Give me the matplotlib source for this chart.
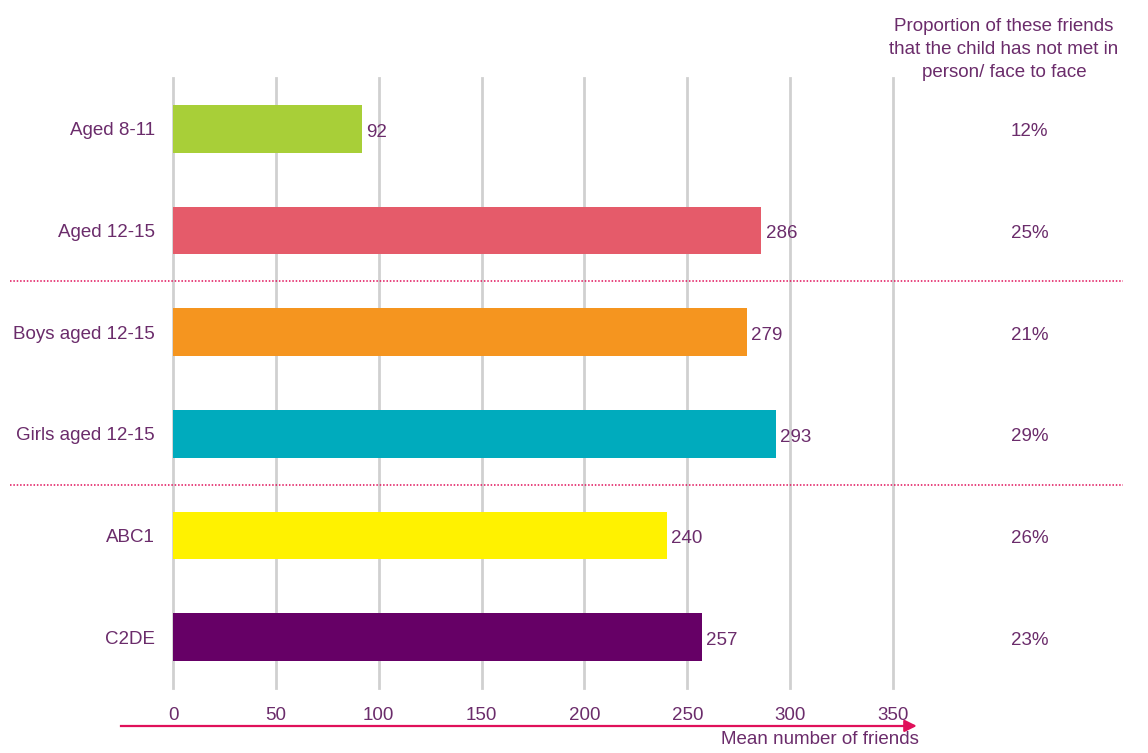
""" Mean number of friends by group, with proportion not met in person.
"""
import matplotlib.pyplot as plt
from matplotlib.lines import Line2D

plt.rcParams['font.family'] = ['Liberation Sans', 'DejaVu Sans']

categories = ["Aged 8-11", "Aged 12-15", "Boys aged 12-15", "Girls aged 12-15",
              "ABC1", "C2DE"]
mean_friends = [92, 286, 279, 293, 240, 257]
not_met = ["12%", "25%", "21%", "29%", "26%", "23%"]
bar_colors = ["#a8cf38", "#e55b6a", "#f5951f", "#00abbd", "#fff200", "#660066"]
xticks = [0, 50, 100, 150, 200, 250, 300, 350]
separators = [1.5, 3.5]

TEXT = "#6b2c6b"
ACCENT = "#e0105a"
FS = 13.5

fig = plt.figure(figsize=(11.48, 7.53), dpi=100)
ax = fig.add_axes([0.1507, 0.0863, 0.6272, 0.8101])

ypos = list(range(len(categories)))
ax.barh(ypos, mean_friends, height=0.47, color=bar_colors, zorder=3)

for y, v in zip(ypos, mean_friends):
    ax.annotate(str(v), (v, y), xytext=(3, -2.5), textcoords="offset points",
                va="center", ha="left", fontsize=FS, color=TEXT)

ax.set_xlim(0, 350)
ax.set_ylim(len(categories) - 0.5, -0.5)
ax.set_xticks(xticks)
ax.set_xticklabels([str(t) for t in xticks], color=TEXT, fontsize=FS)
ax.set_yticks(ypos)
ax.set_yticklabels(categories, color=TEXT, fontsize=FS)
ax.tick_params(axis="both", length=0)
ax.tick_params(axis="x", pad=14)
ax.tick_params(axis="y", pad=13)
ax.grid(axis="x", color="#d0d0d0", linewidth=2, zorder=0)
for gl in ax.get_xgridlines():
    gl.set_clip_on(False)
for s in ax.spines.values():
    s.set_visible(False)

# right-hand column: proportion not met
trans = ax.get_yaxis_transform()
for y, p in zip(ypos, not_met):
    ax.text(1.19, y + 0.03, p, transform=trans, ha="center", va="center",
            fontsize=FS, color=TEXT)
fig.text(0.8746, 0.976,
         "Proportion of these friends\nthat the child has not met in\nperson/ face to face",
         ha="center", va="top", fontsize=FS, color=TEXT, linespacing=1.45)

# dotted separators
for y in separators:
    ax.add_line(Line2D([-0.227, 1.32], [y, y], transform=trans, color=ACCENT,
                       linestyle=(0, (1, 1.2)), linewidth=1.1, clip_on=False))

# arrow axis
fig.add_artist(Line2D([0.105, 0.795], [0.036, 0.036], color=ACCENT,
                      linewidth=1.6))
ax.annotate("", xy=(0.801, 0.036), xytext=(0.785, 0.036),
            xycoords="figure fraction", textcoords="figure fraction",
            arrowprops=dict(arrowstyle="-|>", color=ACCENT, lw=1.6,
                            mutation_scale=18))
fig.text(0.8, 0.006, "Mean number of friends", ha="right", va="bottom",
         fontsize=FS, color=TEXT)

fig.savefig("out.png", dpi=100)
